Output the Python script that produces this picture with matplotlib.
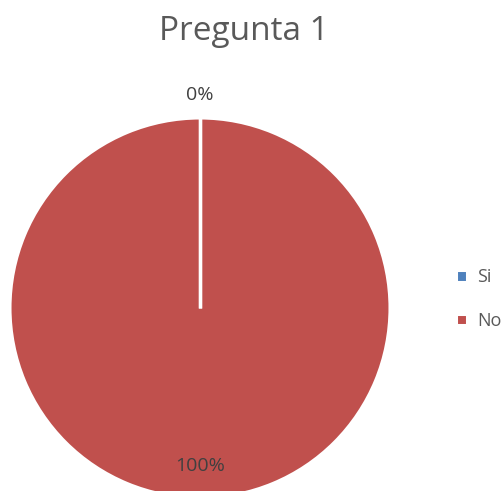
import numpy as np
import matplotlib
matplotlib.use("Agg")
import matplotlib.pyplot as plt

categories = ["Si", "No"]
values = [0, 100]
colors = ["#4F81BD", "#C0504D"]
title = "Pregunta 1"

plt.rcParams['font.family'] = ['Open Sans', 'DejaVu Sans']

W, H = 502, 491
fig = plt.figure(figsize=(W / 100, H / 100), dpi=100)
cx, cy, r = 200, 308, 190
ax = fig.add_axes([(cx - r) / W, (H - cy - r) / H, 2 * r / W, 2 * r / H])

wedges, _ = ax.pie(values, colors=colors, startangle=90, counterclock=False,
                   radius=1, wedgeprops=dict(edgecolor='white', linewidth=2.2))
for w in wedges:
    w.set_clip_on(False)
ax.set_xlim(-1, 1)
ax.set_ylim(-1, 1)
ax.set_aspect('equal')
ax.axis('off')

total = sum(values)
cum = 0
dists = [1.12, 0.83]
for v, d in zip(values, dists):
    frac = v / total
    a0 = np.deg2rad(90 - 360 * cum)
    ax.plot([0, np.cos(a0)], [0, np.sin(a0)], color='white', lw=2.4,
            solid_capstyle='butt', clip_on=False, zorder=3)
    ang = np.deg2rad(90 - 360 * (cum + frac / 2))
    cum += frac
    ax.text(d * np.cos(ang), d * np.sin(ang), f"{round(frac * 100)}%",
            ha='center', va='center', fontsize=14, color='#404040', clip_on=False, zorder=4)

fig.text(244 / W, 1 - 31 / H, title, ha='center', va='center', fontsize=24, color='#595959')

fig.legend(wedges, categories, loc='center left', bbox_to_anchor=(456 / W, 1 - 299 / H),
           frameon=False, fontsize=13, handlelength=0.62, handleheight=0.62,
           handletextpad=0.55, labelspacing=1.42, labelcolor='#595959',
           borderpad=0, borderaxespad=0)

fig.savefig("out.png", dpi=100)
